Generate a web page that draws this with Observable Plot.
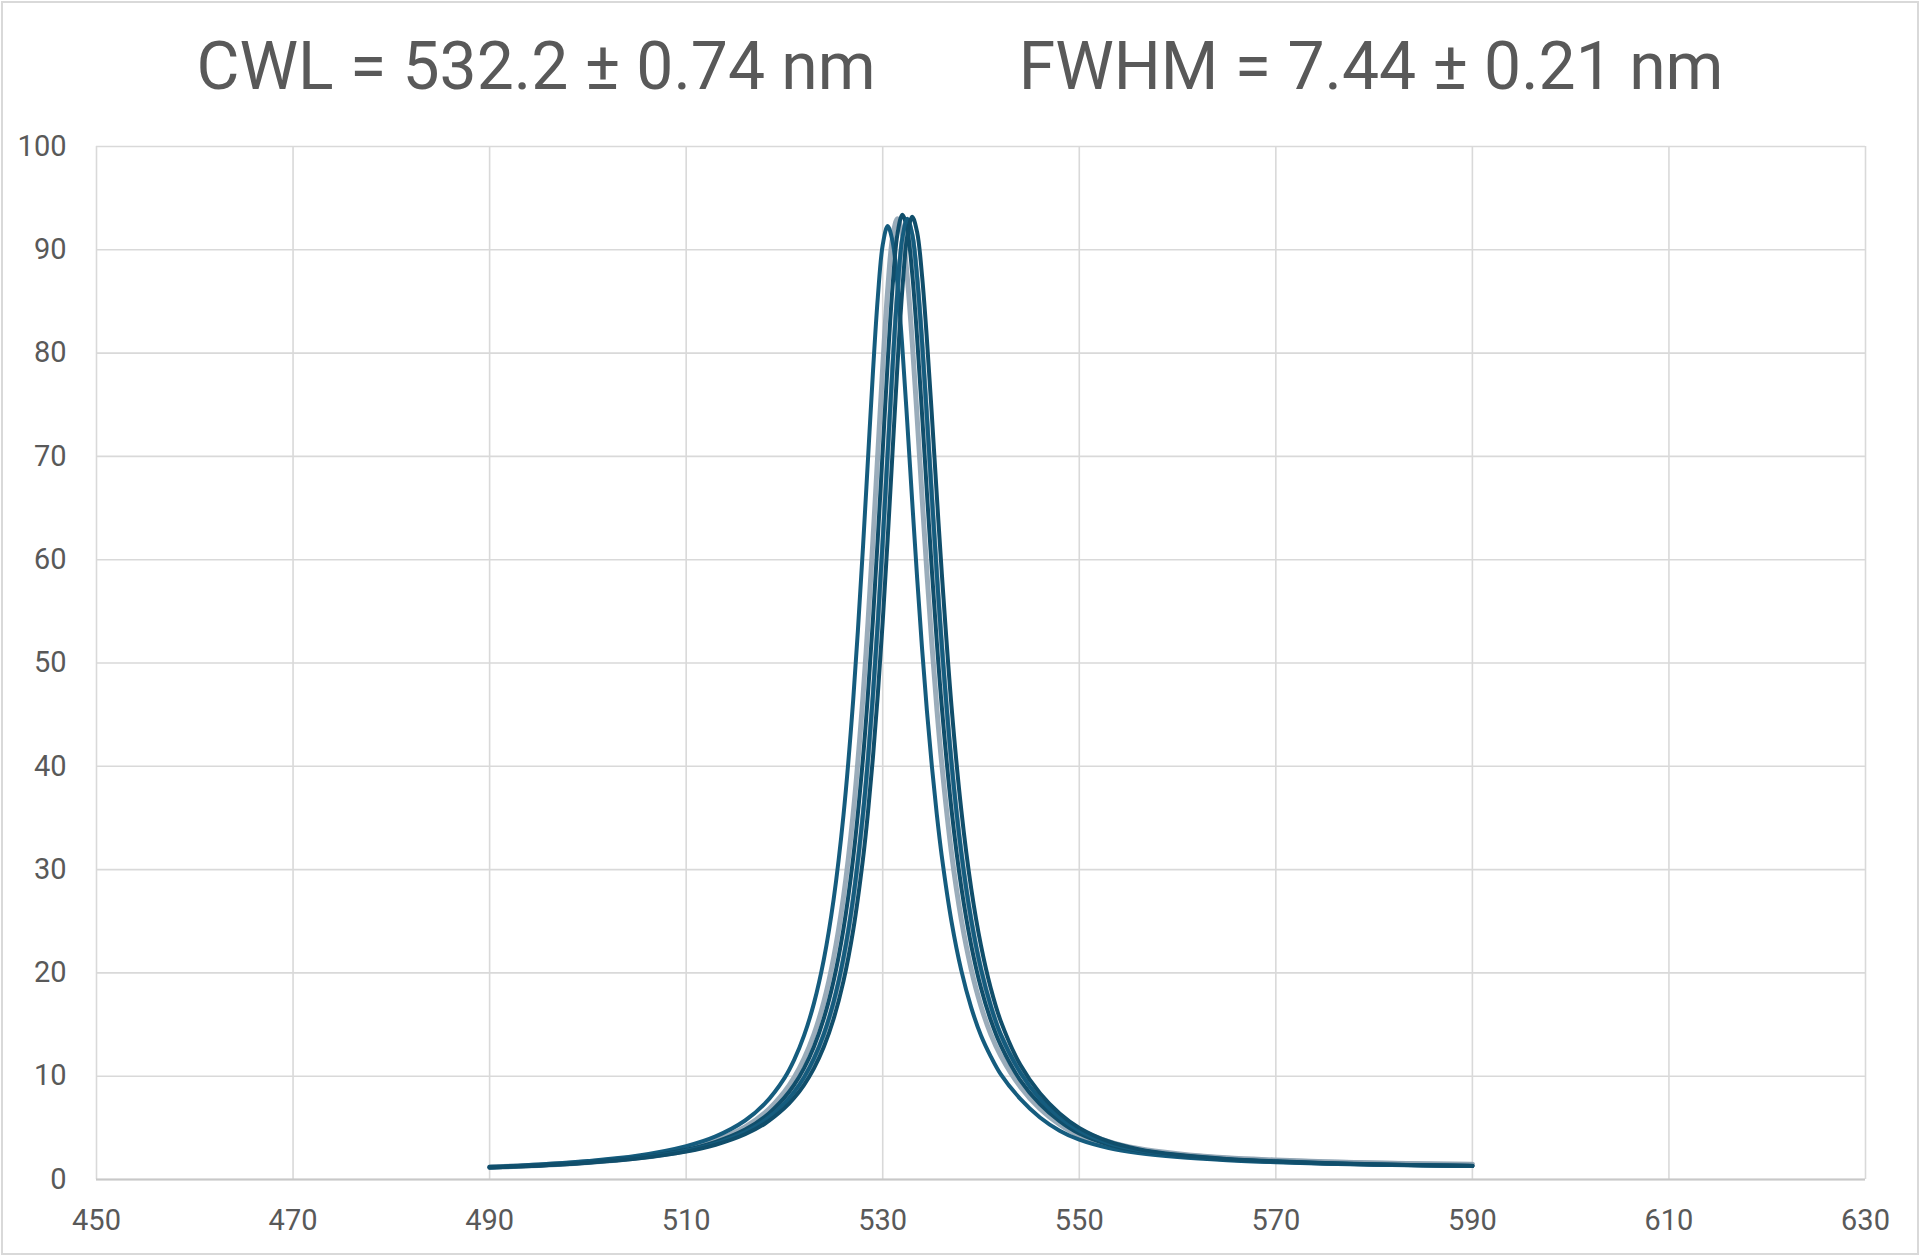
<!DOCTYPE html>
<html>
<head>
<meta charset="utf-8">
<script src="https://cdn.jsdelivr.net/npm/d3@7"></script>
<script src="https://cdn.jsdelivr.net/npm/@observablehq/plot@0.6"></script>
<style>
  html, body { margin: 0; padding: 0; background: #ffffff; }
  #wrap { position: relative; width: 1920px; height: 1256px; overflow: hidden; background: #fff;
          font-family: Roboto, "Noto Sans", sans-serif; }
  #frame { position: absolute; left: 1px; top: 1px; right: 1px; bottom: 1px;
           border: 2px solid #d9d9d9; pointer-events: none; }
  #title { position: relative; height: 120px; text-align: center; color: #595959;
           font-size: 66px; line-height: 66px; white-space: pre; }
  #title span { position: relative; top: 34px; }
  #title .gap { display: inline-block; width: 143px; }
  #chart svg { display: block; }
</style>
</head>
<body>
<div id="wrap">
  <div id="title"><span>CWL = 532.2 ± 0.74 nm</span><span class="gap"></span><span>FWHM = 7.44 ± 0.21 nm</span></div>
  <div id="chart"></div>
  <div id="frame"></div>
</div>
<script>
// ---- data ----
const xTicks = [450, 470, 490, 510, 530, 550, 570, 590, 610, 630];
const yTicks = [0, 10, 20, 30, 40, 50, 60, 70, 80, 90, 100];

const wavelength = [490, 495, 500, 505, 510, 513, 516, 518, 520, 521, 522, 523, 524, 525, 526, 527,
  528, 528.5, 529, 529.5, 530, 530.5, 531, 531.5, 532, 532.5, 533, 533.5, 534, 534.5, 535, 535.5, 536,
  537, 538, 539, 540, 541, 542, 544, 546, 548, 550, 553, 556, 560, 565, 570, 575, 580, 585, 590];

const scan1 = [1.23, 1.46, 1.79, 2.30, 3.23, 4.17, 5.71, 7.34, 9.82, 11.61, 13.95, 17.05, 21.26, 27.08, 35.20, 46.48,
  61.35, 69.74, 78.07, 85.37, 90.47, 92.30, 90.82, 86.65, 80.49, 73.24, 65.64, 58.26, 51.45, 45.35, 40.01, 35.37, 31.37,
  24.97, 20.22, 16.66, 13.94, 11.9, 10.2, 7.8, 6.0, 4.72, 3.85, 3.04, 2.56, 2.17, 1.87, 1.67, 1.53, 1.43, 1.35, 1.30];

const scan2 = [1.20, 1.41, 1.71, 2.18, 3.00, 3.81, 5.10, 6.44, 8.49, 9.89, 11.70, 14.05, 17.17, 21.43, 27.28, 35.47,
  46.84, 53.90, 61.81, 70.27, 78.67, 86.03, 91.15, 93.00, 91.50, 87.32, 81.11, 73.79, 66.13, 58.70, 51.85, 45.70, 40.31,
  31.60, 25.16, 20.37, 16.78, 14.05, 12.0, 8.98, 6.85, 5.33, 4.24, 3.35, 2.85, 2.41, 2.06, 1.85, 1.70, 1.59, 1.51, 1.46];

const scan3 = [1.18, 1.39, 1.68, 2.12, 2.89, 3.65, 4.84, 6.06, 7.93, 9.18, 10.78, 12.85, 15.57, 19.22, 24.22, 31.17,
  40.88, 47.04, 54.13, 62.08, 70.58, 79.01, 86.40, 91.55, 93.40, 91.91, 87.69, 81.46, 74.11, 66.42, 58.96, 52.07, 45.89,
  35.79, 28.26, 22.69, 18.53, 15.40, 13.0, 9.6, 7.3, 5.65, 4.45, 3.38, 2.77, 2.30, 1.93, 1.72, 1.56, 1.45, 1.37, 1.31];

const scan4 = [1.17, 1.36, 1.64, 2.07, 2.79, 3.50, 4.60, 5.72, 7.37, 8.49, 9.90, 11.70, 14.05, 17.18, 21.43, 27.28,
  35.48, 40.71, 46.84, 53.90, 61.82, 70.28, 78.67, 86.03, 91.15, 93.00, 91.51, 87.32, 81.11, 73.79, 66.14, 58.71, 51.85,
  40.31, 31.61, 25.16, 20.37, 16.79, 14.05, 10.35, 7.8, 6.0, 4.72, 3.53, 2.86, 2.35, 1.96, 1.74, 1.57, 1.46, 1.38, 1.31];

const scan5 = [1.16, 1.34, 1.61, 2.02, 2.70, 3.36, 4.38, 5.40, 6.91, 7.91, 9.17, 10.76, 12.82, 15.54, 19.18, 24.17,
  31.11, 35.55, 40.80, 46.94, 54.03, 61.95, 70.43, 78.84, 86.22, 91.36, 93.20, 91.71, 87.50, 81.29, 73.96, 66.28, 58.84,
  45.80, 35.72, 28.20, 22.64, 18.50, 15.36, 11.1, 8.35, 6.4, 5.0, 3.68, 2.94, 2.39, 1.99, 1.76, 1.59, 1.47, 1.38, 1.32];

const scan6 = [1.17, 1.36, 1.64, 2.07, 2.79, 3.50, 4.60, 5.72, 7.36, 8.47, 9.88, 11.68, 14.02, 17.14, 21.38, 27.22,
  35.40, 40.62, 46.74, 53.78, 61.69, 70.13, 78.50, 85.84, 90.95, 92.80, 91.31, 87.13, 80.94, 73.63, 66.00, 58.58, 51.74,
  40.22, 31.54, 25.11, 20.33, 16.76, 14.02, 10.4, 7.9, 6.12, 4.85, 3.67, 3.0, 2.5, 2.1, 1.88, 1.71, 1.6, 1.52, 1.47];

const scanNames = ["scan1", "scan2", "scan3", "scan4", "scan5", "scan6"];
const scanValues = [scan1, scan2, scan3, scan4, scan5, scan6];
const lightScans = ["scan2", "scan6"];

// table built from the arrays
const rows = scanNames.flatMap((name, i) =>
  wavelength.map((w, j) => ({scan: name, wavelength: w, value: scanValues[i][j]})));
const lightRows = rows.filter(d => lightScans.includes(d.scan));
const darkRows = rows.filter(d => !lightScans.includes(d.scan));

const fontFamily = 'Roboto, "Noto Sans", sans-serif';

const chart = Plot.plot({
  width: 1920,
  height: 1136,
  marginLeft: 96,
  marginRight: 55,
  marginTop: 26,
  marginBottom: 77,
  style: {fontFamily, fontSize: "29px", color: "#595959", background: "#ffffff", overflow: "visible"},
  x: {domain: [450, 630], label: null},
  y: {domain: [0, 100], label: null},
  marks: [
    Plot.gridX(xTicks, {stroke: "#d9d9d9", strokeOpacity: 1, strokeWidth: 1.6}),
    Plot.gridY(yTicks, {stroke: "#d9d9d9", strokeOpacity: 1, strokeWidth: 1.6}),
    Plot.ruleY([0], {stroke: "#c8c8c8", strokeWidth: 2}),
    Plot.line(lightRows, {x: "wavelength", y: "value", z: "scan", stroke: "#8fa3b3",
      strokeOpacity: 0.9, strokeWidth: 5, curve: "catmull-rom"}),
    Plot.line(darkRows, {x: "wavelength", y: "value", z: "scan",
      stroke: d => d.scan === "scan3" || d.scan === "scan5" ? "#104e6b" : "#155c7e",
      strokeWidth: 4, curve: "catmull-rom"}),
    Plot.axisX(xTicks, {tickSize: 0, tickPadding: 30, fill: "#595959", label: null, fontSize: 29}),
    Plot.axisY(yTicks, {tickSize: 0, tickPadding: 30, fill: "#595959", label: null, fontSize: 29})
  ]
});
document.getElementById("chart").appendChild(chart);
</script>
</body>
</html>
